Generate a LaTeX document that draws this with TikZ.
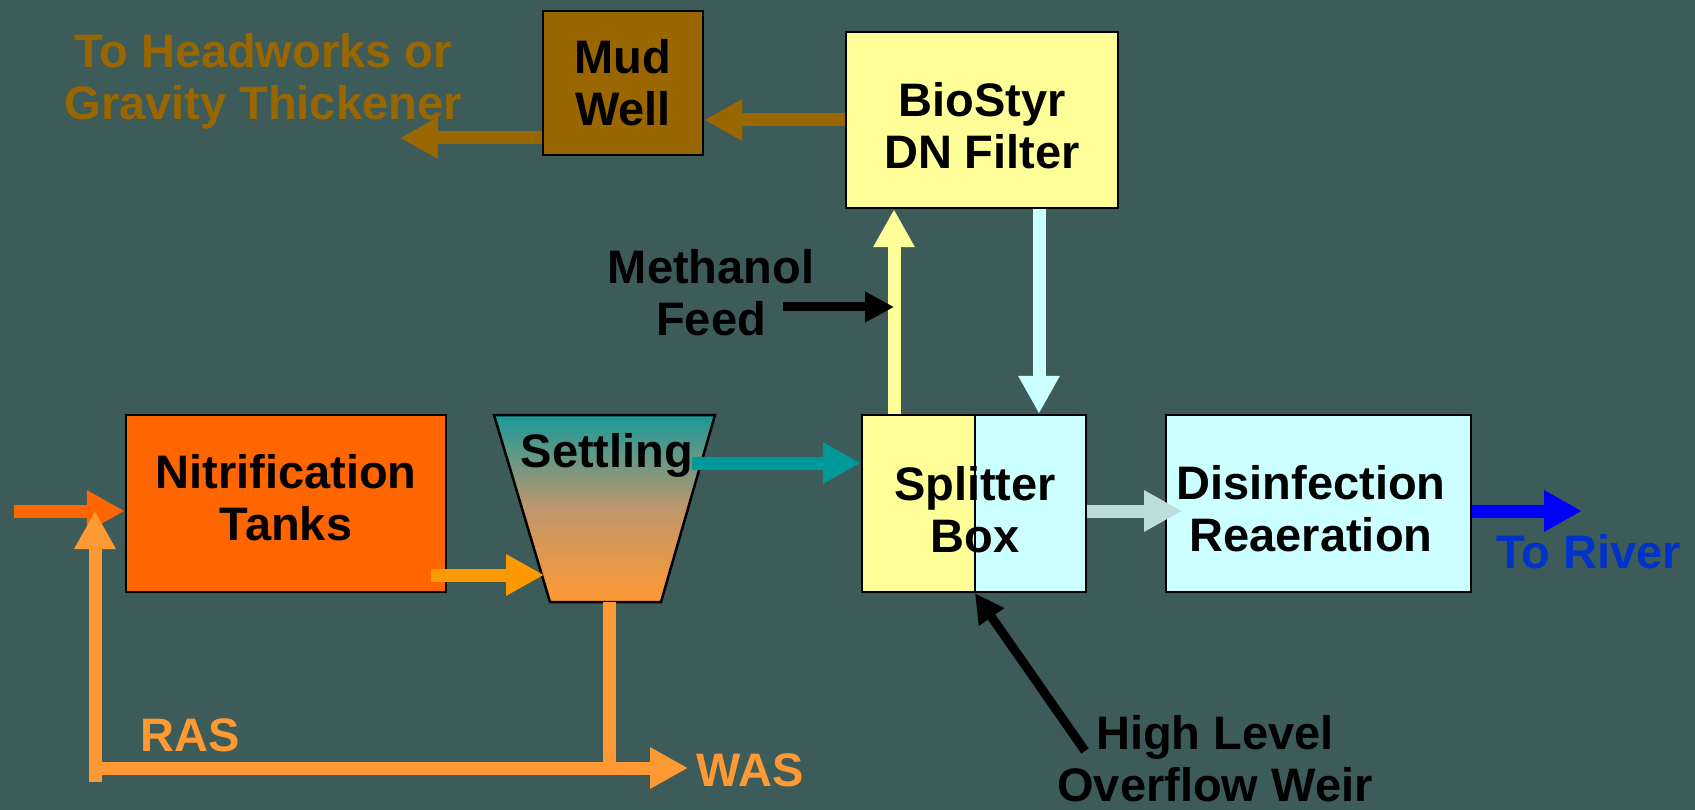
\documentclass[tikz,border=0pt]{standalone}
\usepackage{fontspec}
\setmainfont{Liberation Sans}
\usetikzlibrary{arrows.meta}
\definecolor{bg}{HTML}{3D5B59}
\definecolor{brn}{HTML}{996600}
\definecolor{yel}{HTML}{FFFF99}
\definecolor{cyl}{HTML}{CCFFFF}
\definecolor{org}{HTML}{FF6600}
\definecolor{lorg}{HTML}{FF9933}
\definecolor{morg}{HTML}{FF9900}
\definecolor{tea}{HTML}{009999}
\definecolor{gry}{HTML}{BBDDDD}
\definecolor{blu}{HTML}{0000FF}
\definecolor{rivt}{HTML}{0033CC}
\definecolor{stop}{HTML}{1A9999}
\definecolor{smid}{HTML}{C0966C}
\begin{document}
\begin{tikzpicture}[x=1pt,y=-1pt,
  font=\fontsize{47}{52}\selectfont\bfseries,
  box/.style={draw=black, line width=2.5pt, inner sep=0pt, align=center},
  lbl/.style={inner sep=0pt, align=center},
  big/.style={line width=13pt, -{Triangle[width=39pt,length=38pt]}},
  thin/.style={line width=9pt, draw=black, -{Triangle[width=29pt,length=29pt]}}]
\fill[bg] (0,0) rectangle (1695,810);
\useasboundingbox (0,0) rectangle (1695,810);

% boxes
\node[box, fill=brn, minimum width=160pt, minimum height=144pt] (mud) at (623,83) {Mud\\Well};
\node[box, fill=yel, minimum width=272pt, minimum height=176pt] (bio) at (982,120) {};
\node[box, fill=org, minimum width=320pt, minimum height=177pt] (nit) at (286,503.5) {};
\fill[yel] (862,415) rectangle (975,592);
\fill[cyl] (975,415) rectangle (1086,592);
\node[box, minimum width=224pt, minimum height=177pt] (split) at (974,503.5) {};
\coordinate (dv) at (975,0);
\draw[line width=1.5pt] (split.north -| dv) -- (split.south -| dv);
\node[box, fill=cyl, minimum width=305pt, minimum height=177pt] (dis) at (1318.5,503.5) {};

% settling tank
\coordinate (s1) at (494,415);
\coordinate (s2) at (715,415);
\coordinate (s3) at (661,602);
\coordinate (s4) at (550,602);
\shade[top color=stop, bottom color=lorg, middle color=smid] (s1) -- (s2) -- (s3) -- (s4) -- cycle;
\draw[line width=2.5pt, line join=miter] (s1) -- (s2) -- (s3) -- (s4) -- cycle;

% brown arrows
\coordinate (hw) at (400,138);
\draw[big, brn] (bio.west) -- (bio.west -| mud.east);
\draw[big, brn] (hw -| mud.west) -- (hw);

% filter loop
\coordinate (up) at (894,0);
\coordinate (dn) at (1039,0);
\draw[big, yel] (split.north -| up) -- (bio.south -| up);
\draw[big, cyl] (bio.south -| dn) -- (split.north -| dn);
\coordinate (mf) at (783,307);
\draw[thin] (mf) -- (mf -| up);

% settling to splitter
\coordinate (st) at (692,463);
\draw[big, tea] (st) -- (st -| split.west);

% nitrification to settling
\coordinate (ns) at (431,575);
\coordinate (ne) at (544,575);
\draw[big, morg] (ns) -- (ne);

% input
\coordinate (inp) at (14,511);
\draw[big, org] (inp) -- (inp -| nit.west);

% RAS / WAS
\coordinate (rb) at (95,782);
\coordinate (rt) at (95,511);
\coordinate (hl) at (95,768);
\coordinate (was) at (688,768);
\coordinate (sb) at (609.5,602);
\draw[line width=13pt, lorg] (sb) -- (sb |- hl);
\draw[big, lorg] (hl) -- (was);
\draw[big, lorg] (rb) -- (rt);

% splitter to disinfection, to river
\coordinate (gy) at (1182,511);
\draw[big, gry] (gy -| split.east) -- (gy);
\coordinate (rv) at (1582,511);
\draw[big, blu] (rv -| dis.east) -- (rv);

% high level overflow
\coordinate (hlw) at (1085,751);
\draw[thin] (hlw) -- (split.south -| dv);

% box labels
\node[lbl] (biot) at (982,125.5) {BioStyr\\DN Filter};
\node[lbl] (nitt) at (286,497.5) {Nitrification\\Tanks};
\node[lbl] (splitt) at (975,510) {Splitter\\Box};
\node[lbl] (dist) at (1311,509) {Disinfection\\Reaeration};

% labels
\node[lbl, text=brn] (hwt) at (263,81) {To Headworks or\\Gravity Thickener};
\node[lbl] (meth) at (711,293) {Methanol\\Feed};
\node[lbl] (settle) at (607,455) {Settling};
\node[lbl, text=lorg] (ras) at (190,735) {RAS};
\node[lbl, text=lorg] (wast) at (750,770) {WAS};
\node[lbl, text=rivt] (river) at (1589,552) {To River};
\node[lbl] (hlt) at (1215,759) {High Level\\Overflow Weir};
\end{tikzpicture}
\end{document}
